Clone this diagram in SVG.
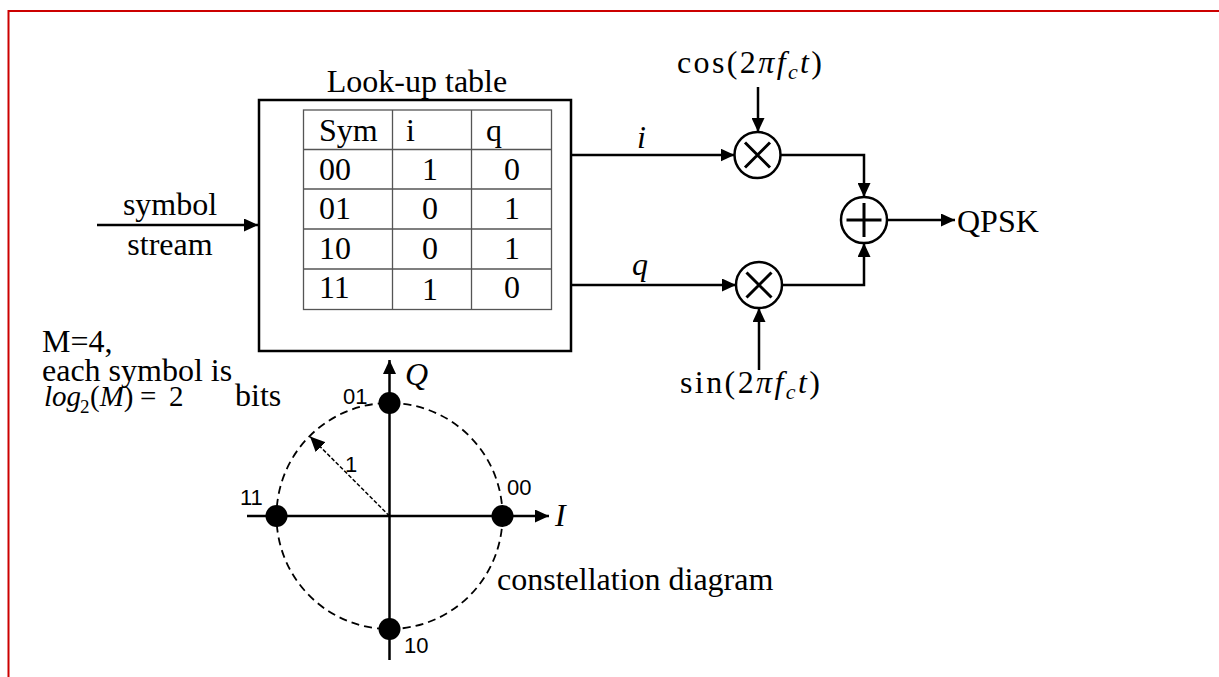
<svg xmlns="http://www.w3.org/2000/svg" width="1219" height="677" viewBox="0 0 1219 677">
<style>
text{font-family:"Liberation Serif","Times New Roman",serif;font-size:32px;fill:#000}
.it{font-style:italic}
.m{font-size:29px}
.sans{font-family:"Liberation Sans",Arial,sans-serif;font-size:22px}
.ln{fill:none;stroke:#000;stroke-width:2.5}
.tb{fill:none;stroke:#555;stroke-width:1.3}
.op{fill:#fff;stroke:#000;stroke-width:2.5}
.sym{fill:none;stroke:#000;stroke-width:3}
</style>
<defs>
<marker id="ah" markerUnits="userSpaceOnUse" markerWidth="15" markerHeight="13" refX="14" refY="6.5" orient="auto">
<path d="M0,0 L14,6.5 L0,13 z" fill="#000"/>
</marker>
<marker id="ahs" markerUnits="userSpaceOnUse" markerWidth="16" markerHeight="14" refX="15" refY="7" orient="auto">
<path d="M0,0 L15,7 L0,14 z" fill="#000"/>
</marker>
</defs>
<rect width="1219" height="677" fill="#fff"/>
<path d="M8.5,677 V11 H1219" fill="none" stroke="#cc0000" stroke-width="2"/>

<g id="lut">
<rect x="259" y="100" width="312" height="251" fill="none" stroke="#000" stroke-width="2.5"/>
<text x="417" y="92" text-anchor="middle">Look-up table</text>
<rect class="tb" x="303.5" y="110" width="248" height="199.5"/>
<path class="tb" d="M303.5,149.5 H551.5 M303.5,189 H551.5 M303.5,229 H551.5 M303.5,269 H551.5 M392.5,110 V309.5 M471.5,110 V309.5"/>
<text x="319" y="141">Sym</text>
<text x="406" y="141">i</text>
<text x="486" y="141">q</text>
<text x="319" y="180">00</text>
<text x="319" y="219">01</text>
<text x="319" y="259">10</text>
<text x="319" y="298">11</text>
<text x="430" y="180" text-anchor="middle">1</text>
<text x="430" y="219" text-anchor="middle">0</text>
<text x="430" y="259" text-anchor="middle">0</text>
<text x="430" y="300" text-anchor="middle">1</text>
<text x="512" y="180" text-anchor="middle">0</text>
<text x="512" y="219" text-anchor="middle">1</text>
<text x="512" y="259" text-anchor="middle">1</text>
<text x="512" y="298" text-anchor="middle">0</text>
</g>

<g id="mult_i">
<circle class="op" cx="757.5" cy="155" r="23"/>
<path class="sym" d="M745,142.5 L770,167.5 M770,142.5 L745,167.5"/>
</g>
<g id="mult_q">
<circle class="op" cx="759" cy="285" r="23"/>
<path class="sym" d="M746.5,272.5 L771.5,297.5 M771.5,272.5 L746.5,297.5"/>
</g>
<g id="adder">
<circle class="op" cx="864" cy="220" r="23"/>
<path class="sym" d="M846.5,220 H881.5 M864,203 V237"/>
</g>

<g id="labels">
<text x="170" y="215" text-anchor="middle">symbol</text>
<text x="170" y="255" text-anchor="middle">stream</text>
<text x="42" y="352">M=4,</text>
<text x="42" y="381">each symbol is</text>
<text y="406" class="m"><tspan x="44" class="it">log</tspan><tspan x="80" y="413" font-size="19">2</tspan><tspan x="90" y="406">(</tspan><tspan class="it">M</tspan><tspan>)</tspan><tspan x="140">=</tspan><tspan x="169">2</tspan><tspan x="235" font-size="32">bits</tspan></text>
<text x="637" y="148" class="it">i</text>
<text x="632" y="275" class="it">q</text>
<text x="677" y="73" textLength="145" lengthAdjust="spacing">cos(2<tspan class="it">πf</tspan><tspan class="it" font-size="22" dy="6">c</tspan><tspan class="it" dy="-6">t</tspan>)</text>
<text x="680" y="393" textLength="140" lengthAdjust="spacing">sin(2<tspan class="it">πf</tspan><tspan class="it" font-size="22" dy="6">c</tspan><tspan class="it" dy="-6">t</tspan>)</text>
<text x="957" y="232">QPSK</text>
</g>

<g id="connectors">
<path class="ln" d="M97,225 H258" marker-end="url(#ah)"/>
<path class="ln" d="M572,155 H734.5" marker-end="url(#ah)"/>
<path class="ln" d="M572,285 H736" marker-end="url(#ah)"/>
<path class="ln" d="M758,87 V132" marker-end="url(#ah)"/>
<path class="ln" d="M759,370 V308" marker-end="url(#ah)"/>
<path class="ln" d="M780.5,155 H864 V197" marker-end="url(#ah)"/>
<path class="ln" d="M782,285 H864 V243" marker-end="url(#ah)"/>
<path class="ln" d="M887,220 H955" marker-end="url(#ah)"/>
</g>

<g id="constellation">
<circle cx="389.5" cy="516" r="113" fill="none" stroke="#000" stroke-width="1.8" stroke-dasharray="8,5"/>
<path class="ln" d="M389.5,660 V360" marker-end="url(#ah)"/>
<path class="ln" d="M247,516 H549" marker-end="url(#ah)"/>
<path d="M389.5,516 L310,436.5" fill="none" stroke="#000" stroke-width="1.5" stroke-dasharray="4,2" marker-end="url(#ahs)"/>
<circle cx="389.5" cy="403" r="11"/>
<circle cx="389.5" cy="629" r="11"/>
<circle cx="276.5" cy="516" r="11"/>
<circle cx="502.5" cy="516" r="11"/>
<text x="405" y="385" class="it">Q</text>
<text x="555" y="526" class="it">I</text>
<text class="sans" x="343" y="404">01</text>
<text class="sans" x="507" y="495">00</text>
<text class="sans" x="240" y="505">11</text>
<text class="sans" x="404" y="653">10</text>
<text class="sans" x="345" y="472">1</text>
<text x="497" y="590">constellation diagram</text>
</g>
</svg>
